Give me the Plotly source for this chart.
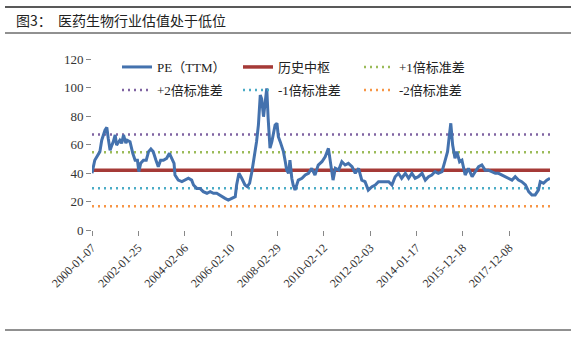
import plotly.graph_objects as go

# Week index (category position) of each sampled point and PE(TTM) value
week_idx = [0, 6, 17, 21, 28, 32, 35, 39, 43, 46, 50, 53, 60, 64, 68, 73, 76, 82, 88, 93,
            98, 101, 105, 111, 117, 122, 127, 132, 138, 143, 148, 154, 161, 167, 172, 177, 179, 186, 194, 201,
            208, 215, 219, 226, 233, 240, 248, 255, 262, 269, 280, 287, 294, 302, 309, 312, 317, 323, 330, 335,
            340, 345, 350, 355, 359, 363, 366, 370, 373, 377, 380, 384, 388, 391, 395, 399, 402, 406, 413, 417,
            420, 424, 427, 431, 434, 438, 445, 453, 460, 467, 474, 481, 488, 496, 503, 510, 514, 520, 525, 532,
            539, 546, 553, 561, 568, 575, 582, 589, 596, 604, 611, 618, 629, 640, 647, 654, 661, 668, 676, 683,
            690, 697, 704, 712, 719, 726, 733, 740, 747, 755, 762, 767, 771, 774, 778, 783, 787, 793, 798, 805,
            812, 820, 827, 834, 841, 848, 855, 863, 870, 877, 884, 891, 899, 906, 913, 920, 927, 935, 942, 949,
            956, 963, 967, 974, 981, 988]
pe_ttm = [39.8, 49, 55, 63, 70, 72, 64.4, 56, 59.6, 62, 66.7, 59.6, 63, 60.8, 66.7, 61, 63, 62, 53.8, 49,
          49, 41, 46.8, 49, 49, 55, 56.8, 55, 49, 44.4, 49, 49, 50.3, 53.8, 50.3, 46.8, 38.6, 35, 33.9, 35,
          36.3, 35, 31.6, 29.2, 29.2, 26.9, 25.8, 26.9, 25.8, 25.8, 23.4, 22.2, 21, 22.2, 23.4, 31.6, 39.8, 36.3, 31.6, 30.4,
          32.8, 41, 50.3, 62, 73.7, 94.7, 92, 79.5, 88, 99.4, 78.4, 57.5, 62, 66.7, 73.7, 74.9, 65.5, 62, 55, 47.9,
          42, 39.8, 49, 36.3, 31.6, 28, 35, 36.3, 38.6, 39.8, 43.3, 38.6, 45.6, 47.9, 51.4, 57.3, 49, 35, 43.3, 42,
          47.9, 45.6, 46.8, 44.4, 39.8, 43.3, 35, 33.9, 28, 30.4, 31.6, 33.9, 33.9, 33.9, 31.6, 37.4, 39.8, 36.3, 39.8, 36.3,
          39.8, 36.3, 37.4, 39.8, 35, 37.4, 38.6, 41, 39.8, 41, 49, 55, 66.7, 74.9, 59.6, 50.3, 55, 47.9, 49, 38.6,
          43.3, 37.4, 41, 44.4, 45.6, 42, 42, 41, 39.8, 39.8, 38.6, 37.4, 36.3, 35, 37.4, 35, 33.9, 31.6, 26.9, 24.6,
          24.6, 28, 33.9, 32.8, 35, 36.3]

# Tick positions (category index) and their labels
tick_idx = [0, 100, 200, 300, 400, 500, 600, 700, 800, 900]
tick_labels = ["2000-01-07", "2002-01-25", "2004-02-06", "2006-02-10", "2008-02-29",
               "2010-02-12", "2012-02-03", "2014-01-17", "2015-12-18", "2017-12-08"]

# Reference levels
hist_mean = 41.9
plus_1sd = 54.5
plus_2sd = 67.1
minus_1sd = 29.3
minus_2sd = 16.7
span = [0, 988]

FONT = "Liberation Serif, Noto Sans CJK SC, serif"
DOT = "2px,4px"
fig = go.Figure()

fig.add_trace(go.Scatter(x=week_idx, y=pe_ttm, mode="lines", name="PE（TTM）", zorder=3,
                         line=dict(color="#4472AE", width=3), legend="legend"))
fig.add_trace(go.Scatter(x=span, y=[hist_mean] * 2, mode="lines", name="历史中枢", zorder=2,
                         line=dict(color="#A53A37", width=3.5), legend="legend"))
fig.add_trace(go.Scatter(x=span, y=[plus_1sd] * 2, mode="lines", name="+1倍标准差", zorder=1,
                         line=dict(color="#9BBB59", width=2.5, dash=DOT), legend="legend"))
fig.add_trace(go.Scatter(x=span, y=[plus_2sd] * 2, mode="lines", name="+2倍标准差", zorder=1,
                         line=dict(color="#8064A2", width=2.5, dash=DOT), legend="legend2"))
fig.add_trace(go.Scatter(x=span, y=[minus_1sd] * 2, mode="lines", name="-1倍标准差", zorder=1,
                         line=dict(color="#4BACC6", width=2.5, dash=DOT), legend="legend2"))
fig.add_trace(go.Scatter(x=span, y=[minus_2sd] * 2, mode="lines", name="-2倍标准差", zorder=1,
                         line=dict(color="#F79646", width=2.5, dash=DOT), legend="legend2"))

W, H = 576, 337
L, R, T, B = 92, 26, 59, 107
pw, ph = W - L - R, H - T - B

def px(x):
    return (x - L) / pw

def py(y):
    return (H - B - y) / ph

legend_common = dict(orientation="h", entrywidth=76, entrywidthmode="pixels",
                     bgcolor="rgba(0,0,0,0)", font=dict(family=FONT, size=13, color="#222"),
                     xanchor="left", yanchor="middle", tracegroupgap=0, itemwidth=30,
                     traceorder="normal")

fig.update_layout(
    width=W, height=H,
    margin=dict(l=L, r=R, t=T, b=B),
    paper_bgcolor="white", plot_bgcolor="white",
    font=dict(family=FONT, size=13, color="#333"),
    showlegend=True,
    legend=dict(x=px(117), y=py(67), **legend_common),
    legend2=dict(x=px(117), y=py(90), **legend_common),
    xaxis=dict(range=[0, 988], tickvals=tick_idx, ticktext=tick_labels, tickangle=-45,
               showgrid=False, zeroline=False, showline=True, linecolor="#888", linewidth=1,
               ticks="outside", ticklen=5, tickcolor="#888",
               tickfont=dict(family=FONT, size=12, color="#333")),
    yaxis=dict(range=[0, 120], dtick=20, showgrid=False, zeroline=False, showline=True,
               linecolor="#888", linewidth=1, ticks="outside", ticklen=5, tickcolor="#888",
               tickfont=dict(family=FONT, size=13, color="#333")),
    shapes=[
        dict(type="line", xref="paper", yref="paper", x0=px(5), x1=px(571), y0=py(7), y1=py(7),
             line=dict(color="#222", width=1.5)),
        dict(type="line", xref="paper", yref="paper", x0=px(5), x1=px(571), y0=py(33), y1=py(33),
             line=dict(color="#222", width=1)),
        dict(type="line", xref="paper", yref="paper", x0=px(5), x1=px(571), y0=py(330), y1=py(330),
             line=dict(color="#222", width=1)),
    ],
    annotations=[
        dict(text="图3：  医药生物行业估值处于低位", xref="paper", yref="paper", x=px(14), y=py(20),
             xanchor="left", yanchor="middle", showarrow=False,
             font=dict(family="Noto Sans CJK SC, sans-serif", size=14, color="#222")),
    ],
)

fig.write_html("out.html")
